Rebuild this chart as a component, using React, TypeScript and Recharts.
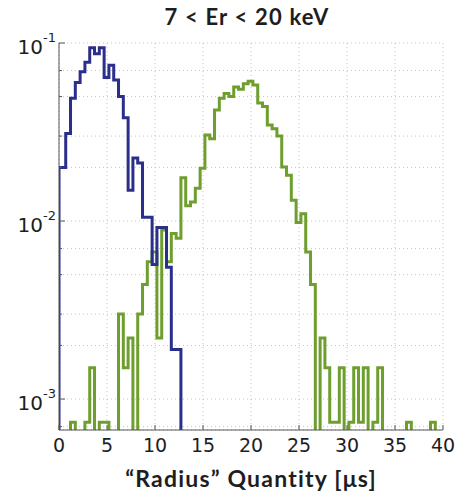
import React from 'react';
import { LineChart, Line, XAxis, YAxis, CartesianGrid } from 'recharts';

// empty bins sit below the visible log range and get clipped
const EMPTY = 1e-4;

// bin edges in µs: a short first bin, then 0.5 µs bins, closed at 40
const binEdges = [0, ...Array.from({ length: 80 }, (_, i) => 0.2 + 0.5 * i), 40];

// blue histogram (first population), one value per bin
const blueValues = [
  0.02, 0.02, 0.031, 0.049, 0.06, 0.069, 0.078, 0.094, 0.087, 0.094,
  0.064, 0.075, 0.062, 0.05, 0.038, 0.0149, 0.0226, 0.0212, 0.0105, 0.0105,
  0.0057, 0.0092, 0.0092, 0.0055, 0.0019, 0.0019,
];

// green histogram (second population)
const greenValues = [
  0, 0, 0, 0.00074, 0, 0, 0.00074, 0.0015, 0, 0.00074,
  0.00074, 0, 0, 0.003, 0.0015, 0.0022, 0, 0.003, 0.0044, 0.0059,
  0.0067, 0.0022, 0.0089, 0.0059, 0.0085, 0.008, 0.0175, 0.0122, 0.0128, 0.0153,
  0.0198, 0.0304, 0.029, 0.042, 0.049, 0.052, 0.05, 0.0566, 0.055, 0.059,
  0.061, 0.058, 0.046, 0.044, 0.0346, 0.033, 0.03, 0.0201, 0.0181, 0.0131,
  0.0098, 0.011, 0.0067, 0.0044, 0, 0.0022, 0.0015, 0.00074, 0.00074, 0.0015,
  0, 0.00074, 0.0015, 0.00074, 0.0015, 0, 0.00074, 0.0015, 0, 0,
  0, 0, 0, 0.00074, 0, 0, 0, 0, 0.00074, 0,
  0,
];

const xTicks = [0, 5, 10, 15, 20, 25, 30, 35, 40];
const yTicks = [
  7e-4, 8e-4, 9e-4,
  1e-3, 2e-3, 3e-3, 4e-3, 5e-3, 6e-3, 7e-3, 8e-3, 9e-3,
  1e-2, 2e-2, 3e-2, 4e-2, 5e-2, 6e-2, 7e-2, 8e-2, 9e-2,
  1e-1,
];

const BLUE = '#2b2f8c';
const GREEN = '#6e9e2e';
const AXIS = '#555';
const TEXT = '#1e1e1e';
const TICK_FONT = '"DejaVu Sans", sans-serif';
const LABEL_FONT = 'Lato, sans-serif';

// turn bin values into step points (vertical edges at both ends)
const toSteps = (values: number[]) => {
  const pts = [{ x: binEdges[0], y: EMPTY }];
  values.forEach((v, i) => pts.push({ x: binEdges[i], y: v > 0 ? v : EMPTY }));
  pts.push({ x: binEdges[values.length], y: EMPTY });
  return pts;
};

const blueData = toSteps(blueValues);
const greenData = toSteps(greenValues);

const isDecade = (v: number) => Math.abs(Math.log10(v) - Math.round(Math.log10(v))) < 1e-6;

const BottomTick = ({ x, y, payload }: any) => (
  <g>
    <line x1={x} y1={y} x2={x} y2={y - 5} stroke={AXIS} />
    <text x={x} y={y + 22} textAnchor="middle" fontSize={19} fontFamily={TICK_FONT} fill={TEXT}>
      {payload.value}
    </text>
  </g>
);

const TopTick = ({ x, y }: any) => <line x1={x} y1={y} x2={x} y2={y + 5} stroke={AXIS} />;

const LeftTick = ({ x, y, payload }: any) => {
  const major = isDecade(payload.value);
  const exp = Math.round(Math.log10(payload.value));
  return (
    <g>
      <line x1={x} y1={y} x2={x + (major ? 6 : 3)} y2={y} stroke={AXIS} />
      {major && (
        <>
          <text x={x - 16} y={y + 11} textAnchor="end" fontSize={20} fontFamily={TICK_FONT} fill={TEXT}>
            10
          </text>
          <text x={x - 16} y={y - 1} fontSize={13} fontFamily={TICK_FONT} fill={TEXT}>
            {exp}
          </text>
        </>
      )}
    </g>
  );
};

const RightTick = ({ x, y, payload }: any) => {
  const major = isDecade(payload.value);
  return <line x1={x} y1={y} x2={x - (major ? 6 : 3)} y2={y} stroke={AXIS} />;
};

export default function App() {
  return (
    <div style={{ position: 'absolute', left: 0, top: 0, width: 459, height: 499, background: '#fff' }}>
      <LineChart width={459} height={499} margin={{ top: 43, right: 16, bottom: 39, left: 0 }}>
        <CartesianGrid stroke="#c4c4c4" strokeDasharray="1 3" />
        <XAxis
          dataKey="x"
          type="number"
          domain={[0, 40]}
          ticks={xTicks}
          allowDataOverflow
          height={30}
          tickSize={0}
          tickMargin={0}
          tickLine={false}
          axisLine={{ stroke: AXIS }}
          tick={<BottomTick />}
        />
        <XAxis
          xAxisId="top"
          dataKey="x"
          type="number"
          orientation="top"
          domain={[0, 40]}
          ticks={xTicks}
          allowDataOverflow
          height={0}
          tickSize={0}
          tickMargin={0}
          tickLine={false}
          axisLine={{ stroke: AXIS }}
          tick={<TopTick />}
        />
        <YAxis
          type="number"
          scale="log"
          domain={[6.7e-4, 0.1]}
          ticks={yTicks}
          allowDataOverflow
          width={59}
          tickSize={0}
          tickMargin={0}
          tickLine={false}
          axisLine={{ stroke: AXIS }}
          tick={<LeftTick />}
        />
        <YAxis
          yAxisId="right"
          type="number"
          scale="log"
          orientation="right"
          domain={[6.7e-4, 0.1]}
          ticks={yTicks}
          allowDataOverflow
          width={0}
          tickSize={0}
          tickMargin={0}
          tickLine={false}
          axisLine={{ stroke: AXIS }}
          tick={<RightTick />}
        />
        <Line
          data={greenData}
          dataKey="y"
          type="stepAfter"
          stroke={GREEN}
          strokeWidth={3}
          dot={false}
          activeDot={false}
          isAnimationActive={false}
        />
        <Line
          data={blueData}
          dataKey="y"
          type="stepAfter"
          stroke={BLUE}
          strokeWidth={3}
          dot={false}
          activeDot={false}
          isAnimationActive={false}
        />
      </LineChart>
      <svg width={459} height={499} style={{ position: 'absolute', left: 0, top: 0, pointerEvents: 'none' }}>
        <text x={247} y={25} textAnchor="middle" fontSize={22} fontWeight="bold" letterSpacing={1.2} fontFamily={LABEL_FONT} fill={TEXT}>
          7 &lt; Er &lt; 20 keV
        </text>
        <text x={251} y={487} textAnchor="middle" fontSize={23} fontWeight="bold" letterSpacing={1.2} fontFamily={LABEL_FONT} fill={TEXT}>
          “Radius” Quantity [μs]
        </text>
      </svg>
    </div>
  );
}
